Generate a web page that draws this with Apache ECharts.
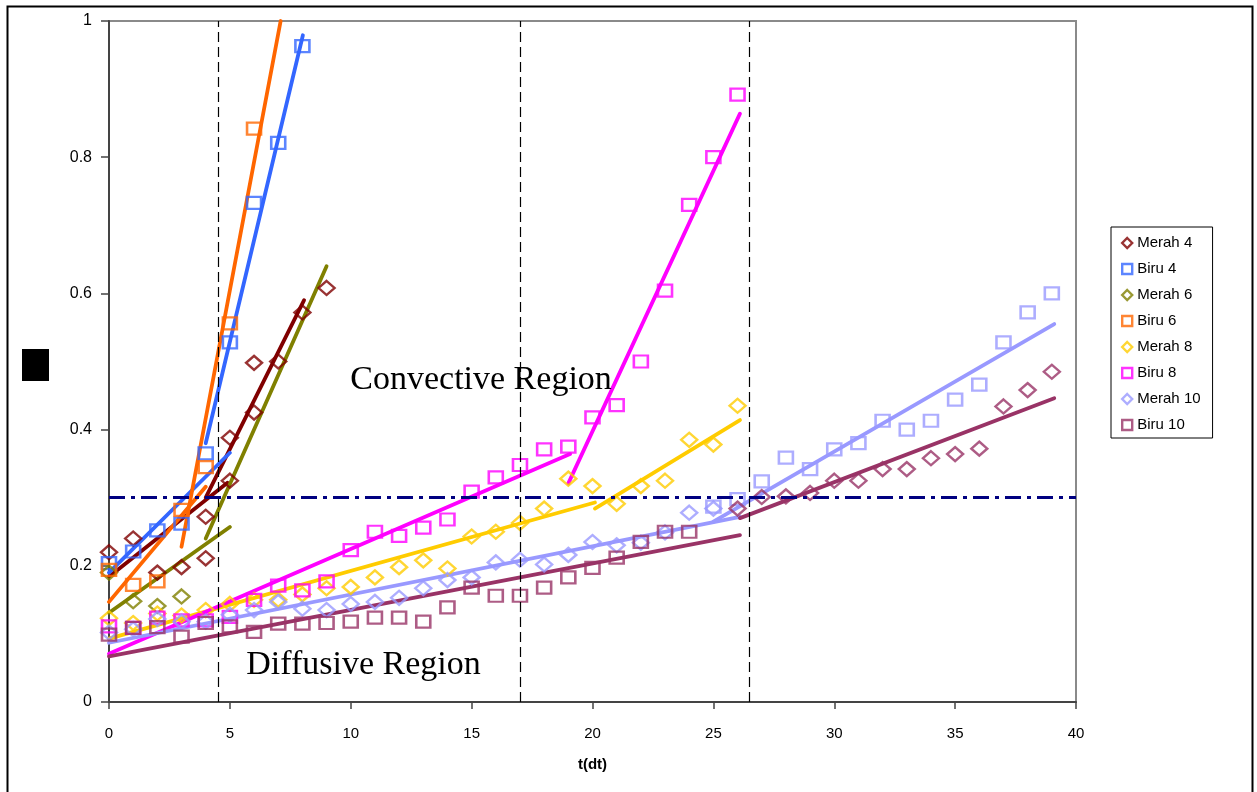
<!DOCTYPE html>
<html>
<head>
<meta charset="utf-8">
<script src="https://cdn.jsdelivr.net/npm/echarts@6/dist/echarts.min.js"></script>
<style>
  html, body { margin: 0; padding: 0; background: #fff; }
  #chart { width: 1257px; height: 792px; }
</style>
</head>
<body>
<div id="chart"></div>
<script>
// ---- measured values (t in dt steps) ----
const merah4 = [[0,0.22],[1,0.24],[2,0.19],[3,0.198],[4,0.272],[4,0.211],[5,0.388],[5,0.325],[6,0.498],[6,0.425],[7,0.50],[8,0.572],[9,0.608]];
const biru4 = [0.204,0.221,0.252,0.262,0.365,0.528,0.733,0.821,0.963];
const merah6 = [0.19,0.148,0.141,0.155];
const biru6 = [0.194,0.172,0.177,0.282,0.345,0.556,0.842];
const merah8 = [0.123,0.116,0.13,0.127,0.135,0.144,0.15,0.15,0.158,0.167,0.169,0.183,0.198,0.208,0.196,0.243,0.25,0.263,0.284,0.328,0.317,0.291,0.317,0.325,0.385,0.378,0.435];
const biru8 = [0.111,0.109,0.124,0.12,0.12,0.125,0.15,0.171,0.164,0.177,0.223,0.25,0.244,0.256,0.268,0.309,0.33,0.348,0.371,0.375,0.418,0.436,0.5,0.604,0.73,0.8,0.892];
const merah10 = [0.102,0.107,0.122,0.118,0.118,0.128,0.135,0.147,0.137,0.135,0.144,0.147,0.153,0.167,0.179,0.183,0.205,0.209,0.202,0.216,0.235,0.23,0.234,0.249,0.278,0.284];
const biru10 = [0.099,0.109,0.11,0.096,0.116,0.111,0.103,0.115,0.115,0.116,0.118,0.124,0.124,0.118,0.139,0.168,0.156,0.156,0.168,0.183,0.197,0.212,0.235,0.25,0.25];
// late-stage (t >= 25) readings
const lateStart10a = 25;
const late10a = [0.287,0.298,0.324,0.359,0.342,0.371,0.380,0.413,0.400,0.413,0.444,0.466,0.528,0.572,0.60];
const lateStart10b = 26;
const late10b = [0.284,0.301,0.302,0.307,0.325,0.325,0.342,0.342,0.358,0.364,0.372,0.434,0.458,0.485];

// ---- linear fit segments: [[t0, y0], [t1, y1]] ----
const fits = [
  { color: '#800000', seg: [[0,0.184],[4.9,0.322]] },
  { color: '#800000', seg: [[4,0.30],[8.07,0.59]] },
  { color: '#3366FF', seg: [[0,0.19],[5,0.366]] },
  { color: '#3366FF', seg: [[4,0.38],[8.02,0.979]] },
  { color: '#808000', seg: [[0,0.131],[5,0.257]] },
  { color: '#808000', seg: [[4,0.24],[9,0.64]] },
  { color: '#FF6600', seg: [[0,0.147],[4,0.316]] },
  { color: '#FF6600', seg: [[3,0.228],[7.1,1.0]] },
  { color: '#FFCC00', seg: [[0,0.093],[20.1,0.293]] },
  { color: '#FFCC00', seg: [[20.1,0.284],[26.1,0.414]] },
  { color: '#FF00FF', seg: [[0,0.071],[19.07,0.364]] },
  { color: '#FF00FF', seg: [[19,0.321],[26.1,0.864]] },
  { color: '#9999FF', seg: [[0,0.087],[26.1,0.272]] },
  { color: '#9999FF', seg: [[25,0.265],[39.1,0.555]] },
  { color: '#993366', seg: [[0,0.067],[26.1,0.245]] },
  { color: '#993366', seg: [[26.1,0.27],[39.1,0.446]] }
];

// region boundaries and threshold
const boundaries = [4.5, 17, 26.5];
const threshold = 0.3;
const xTicks = { min: 0, max: 40, interval: 5 };
const yTicks = { min: 0, max: 1, interval: 0.2 };
const regionLabels = [
  { text: 'Convective Region', at: [15.39, 0.473] },
  { text: 'Diffusive Region', at: [10.53, 0.054] }
];

const idx = (arr, start) => arr.map((v, i) => [start + i, v]);

const markerSeries = [
  { name: 'Merah 4', color: '#800000', symbol: 'diamond', data: merah4 },
  { name: 'Biru 4', color: '#3366FF', symbol: 'rect', data: idx(biru4, 0) },
  { name: 'Merah 6', color: '#808000', symbol: 'diamond', data: idx(merah6, 0) },
  { name: 'Biru 6', color: '#FF6600', symbol: 'rect', data: idx(biru6, 0) },
  { name: 'Merah 8', color: '#FFCC00', symbol: 'diamond', data: idx(merah8, 0) },
  { name: 'Biru 8', color: '#FF00FF', symbol: 'rect', data: idx(biru8, 0) },
  { name: 'Merah 10', color: '#9999FF', symbol: 'diamond', data: idx(merah10, 0) },
  { name: 'Biru 10', color: '#993366', symbol: 'rect', data: idx(biru10, 0) },
  { name: 'late-a', color: '#9999FF', symbol: 'rect', data: idx(late10a, lateStart10a) },
  { name: 'late-b', color: '#993366', symbol: 'diamond', data: idx(late10b, lateStart10b) }
];

const series = [];

fits.forEach((f, i) => {
  series.push({
    name: 'fit-' + i,
    type: 'line',
    data: f.seg,
    symbol: 'none',
    silent: true,
    z: 3,
    lineStyle: { color: f.color, width: 3.8, cap: 'round' },
    itemStyle: { color: f.color }
  });
});

markerSeries.forEach(s => {
  series.push({
    name: s.name,
    type: 'scatter',
    data: s.data,
    symbol: s.symbol,
    symbolSize: s.symbol === 'rect' ? [14, 12] : [16, 14],
    z: 4,
    itemStyle: { color: 'rgba(0,0,0,0)', borderColor: s.color, borderWidth: 2.4 }
  });
});

// guide lines and region captions
series.push({
  name: 'guides',
  type: 'line',
  data: [],
  silent: true,
  z: 2,
  markLine: {
    silent: true,
    symbol: ['none', 'none'],
    label: { show: false },
    animation: false,
    data: boundaries.map(b => ({ xAxis: b, lineStyle: { color: '#000', width: 1.2, type: [10, 5] } }))
      .concat([{ yAxis: threshold, lineStyle: { color: '#000080', width: 3, type: [16, 6, 4, 6] } }])
  },
  markPoint: {
    silent: true,
    symbolSize: 0,
    animation: false,
    label: {
      show: true,
      position: 'inside',
      color: '#000',
      fontFamily: 'Liberation Serif',
      fontSize: 34,
      formatter: p => p.name
    },
    data: regionLabels.map(r => ({ name: r.text, coord: r.at }))
  }
});

const legendItems = markerSeries.slice(0, 8).map(s => ({
  name: s.name,
  icon: s.symbol,
  itemStyle: { color: 'rgba(0,0,0,0)', borderColor: s.color, borderWidth: 2.4 }
}));

const chart = echarts.init(document.getElementById('chart'), null, { renderer: 'canvas' });
chart.setOption({
  animation: false,
  backgroundColor: '#fff',
  grid: {
    left: 109, top: 21, right: 181, bottom: 90,
    show: true, borderColor: '#8a8a8a', borderWidth: 2, backgroundColor: 'transparent'
  },
  xAxis: {
    type: 'value',
    min: xTicks.min, max: xTicks.max, interval: xTicks.interval,
    name: 't(dt)',
    nameLocation: 'middle',
    nameGap: 55,
    nameTextStyle: { fontFamily: 'Liberation Sans', fontSize: 15, fontWeight: 'bold', color: '#000' },
    axisLine: { show: true, onZero: false, lineStyle: { color: '#444', width: 2 } },
    axisTick: { show: true, length: 7, lineStyle: { color: '#444', width: 1.5 } },
    axisLabel: { margin: 24, fontFamily: 'Liberation Sans', fontSize: 15, color: '#000' },
    splitLine: { show: false }
  },
  yAxis: {
    type: 'value',
    min: yTicks.min, max: yTicks.max, interval: yTicks.interval,
    axisLine: { show: true, onZero: false, lineStyle: { color: '#444', width: 2 } },
    axisTick: { show: true, length: 8, lineStyle: { color: '#444', width: 1.5 } },
    axisLabel: { margin: 17, fontFamily: 'Liberation Sans', fontSize: 16, color: '#000' },
    splitLine: { show: false }
  },
  legend: {
    orient: 'vertical',
    left: 1111,
    top: 227,
    padding: [8, 12, 5, 10],
    itemWidth: 10,
    itemHeight: 10,
    itemGap: 10,
    borderColor: '#000',
    borderWidth: 1,
    backgroundColor: '#fff',
    selectedMode: false,
    textStyle: { fontFamily: 'Liberation Sans', fontSize: 15, color: '#000', lineHeight: 16 },
    data: legendItems
  },
  graphic: [
    { type: 'rect', left: 5, top: 4, shape: { width: 1245, height: 810 },
      style: { fill: 'none', stroke: '#000', lineWidth: 2 }, silent: true, z: 100 },
    { type: 'rect', left: 22, top: 349, shape: { width: 27, height: 32 },
      style: { fill: '#000' }, silent: true }
  ],
  series: series
});
</script>
</body>
</html>
